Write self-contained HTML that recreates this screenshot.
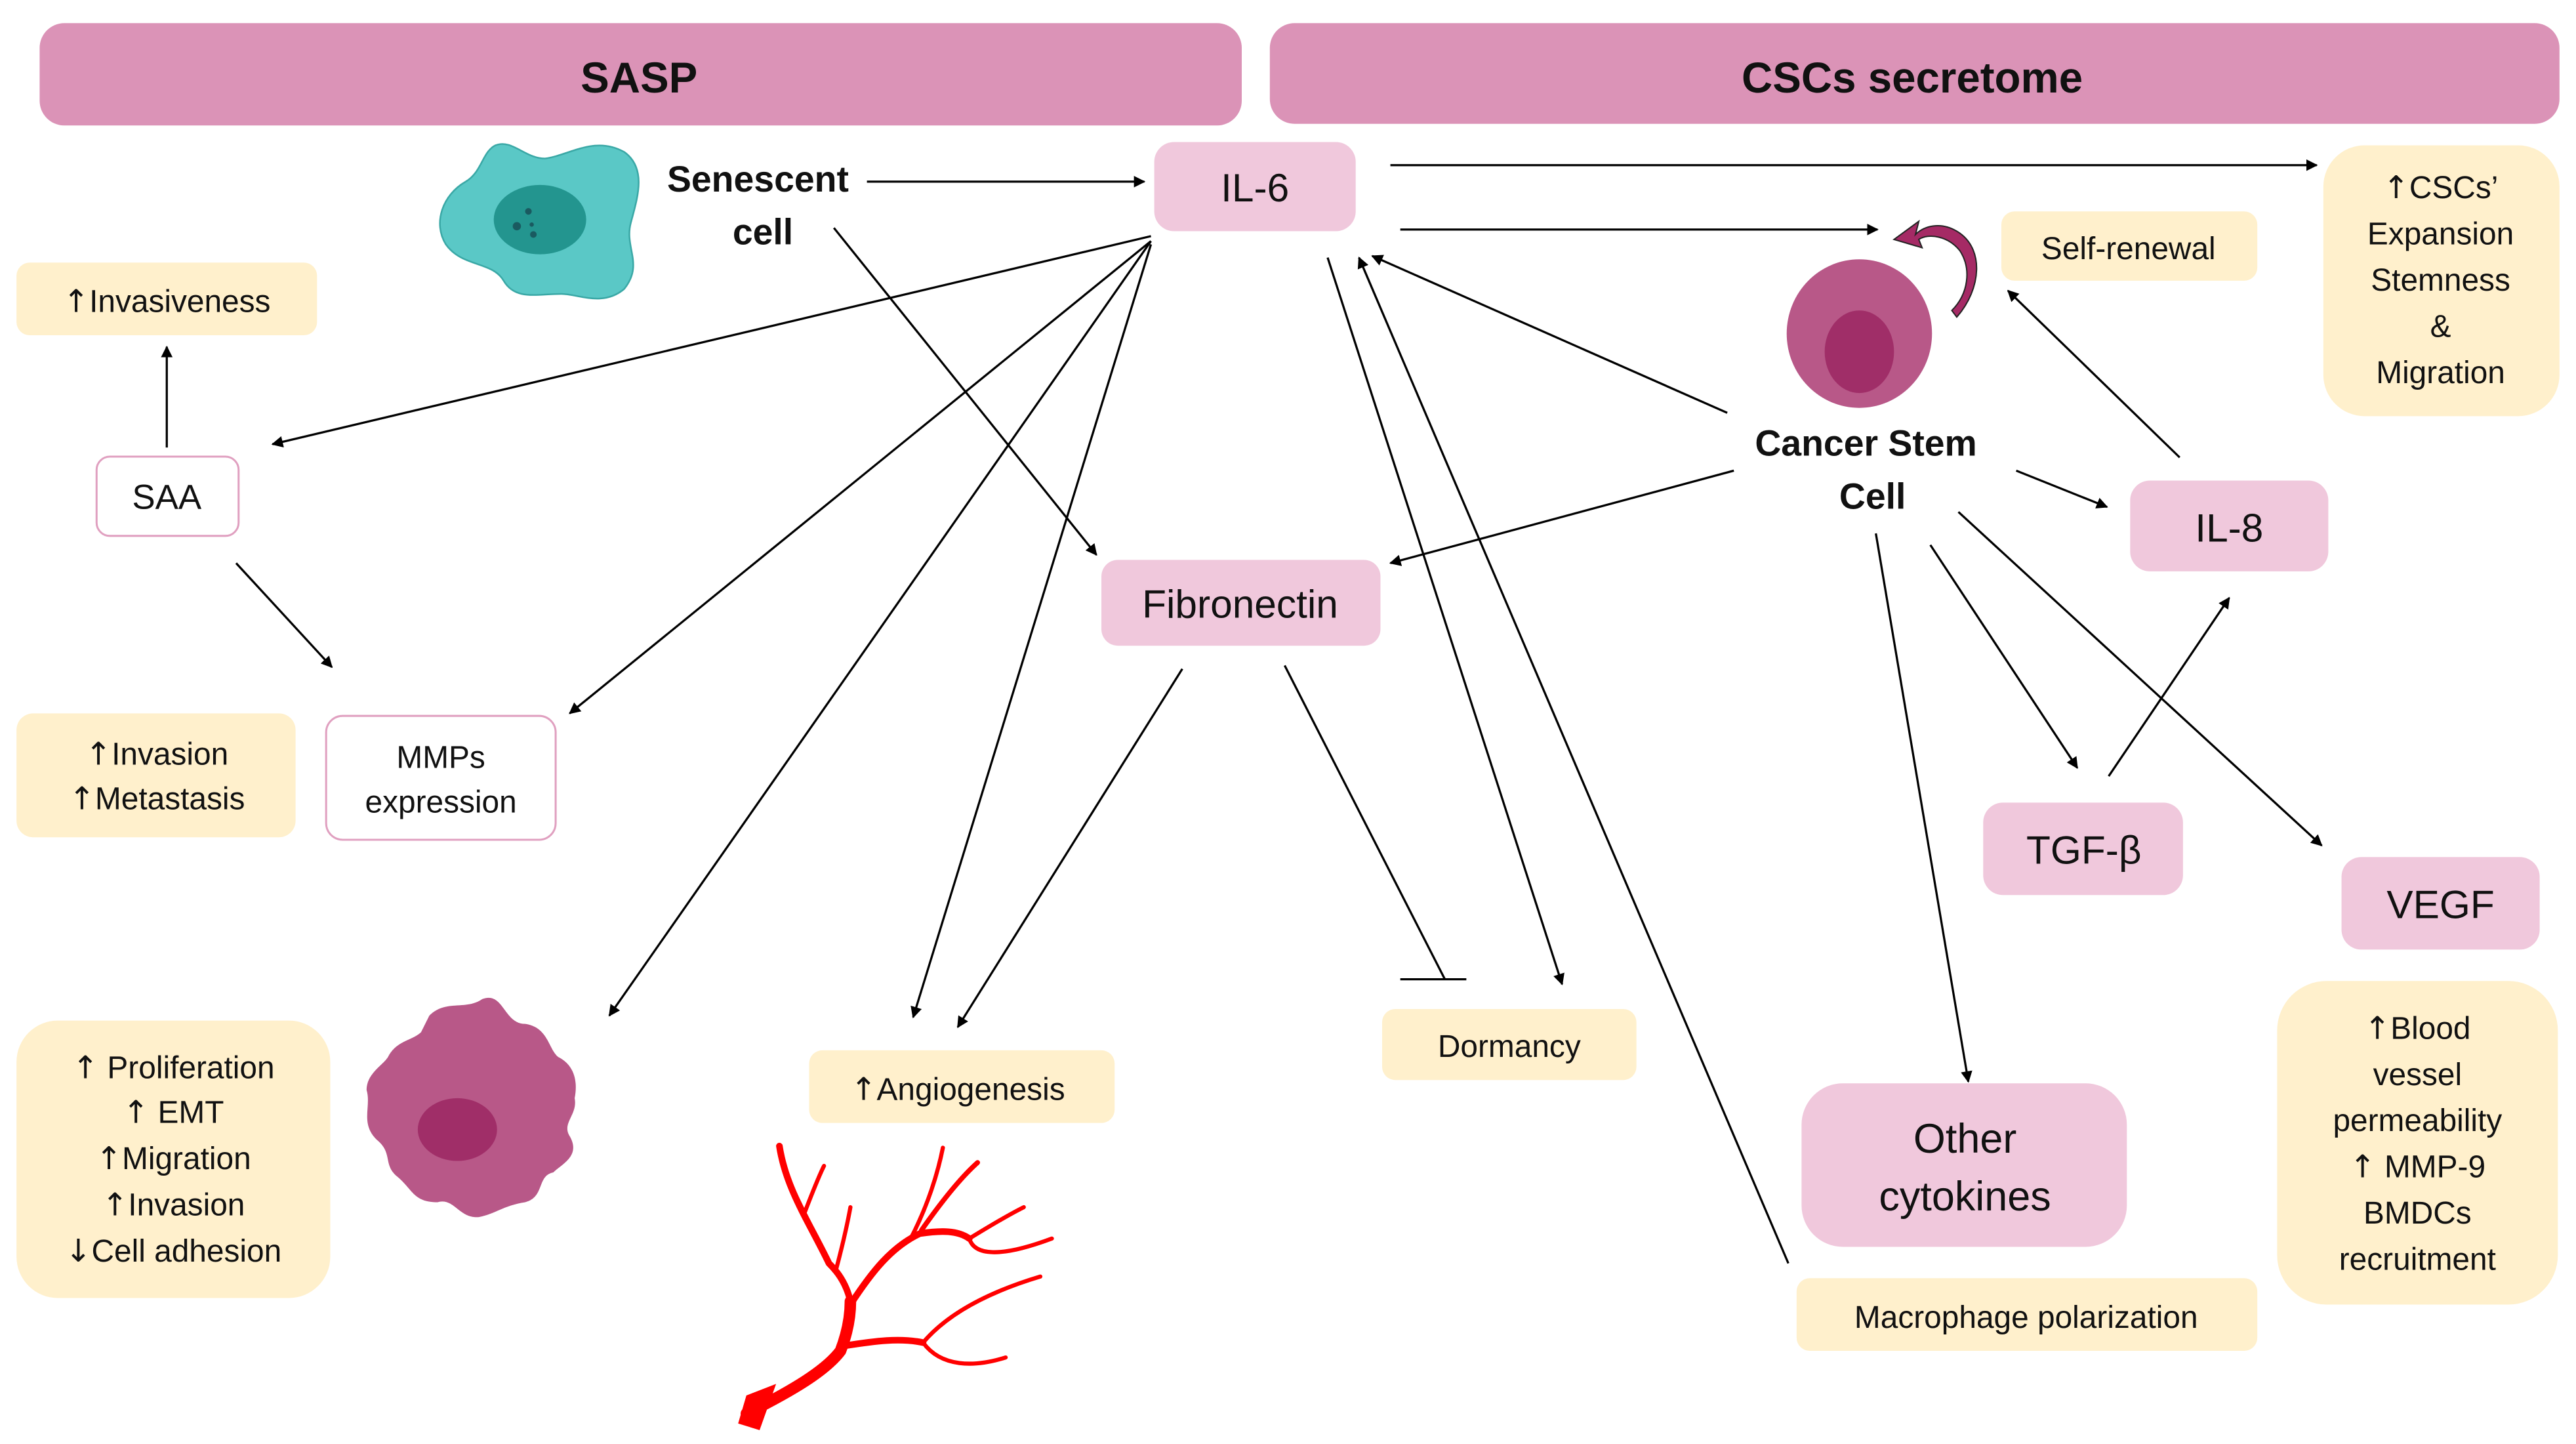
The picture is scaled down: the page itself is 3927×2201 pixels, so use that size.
<!DOCTYPE html>
<html><head><meta charset="utf-8"><style>
html,body{margin:0;padding:0;background:#fff;}
svg{display:block;}
text{font-family:"Liberation Sans",sans-serif;fill:#111;}
.ar{font-family:"DejaVu Sans",sans-serif;}
</style></head><body>
<svg width="3927" height="2201" viewBox="0 0 1560 874.4" preserveAspectRatio="none" xmlns="http://www.w3.org/2000/svg">
<defs>
<marker id="a" viewBox="0 0 10 10" refX="9" refY="5" markerWidth="7" markerHeight="7" orient="auto" markerUnits="userSpaceOnUse">
<path d="M0,0 L10,5 L0,10 z" fill="#000"/></marker>
</defs>
<rect x="24" y="14" width="728" height="62" rx="15" fill="#db93b7"/>
<rect x="769" y="14" width="781" height="61" rx="15" fill="#db93b7"/>
<text x="387" y="56" font-size="26" font-weight="bold" text-anchor="middle">SASP</text>
<text x="1158" y="56" font-size="26" font-weight="bold" text-anchor="middle">CSCs secretome</text>

<path d="M300,88 C310,84 318,96 330,96 C345,94 360,82 378,92 C392,102 386,120 382,135 C378,150 390,160 378,175 C365,186 350,178 340,178 C325,178 312,182 305,170 C298,158 280,162 270,148 C262,135 268,118 282,110 C292,104 292,92 300,88 Z" fill="#5ac8c6" stroke="#3aa8a6" stroke-width="1"/>
<ellipse cx="327" cy="133" rx="28" ry="21" fill="#23958f"/>
<circle cx="320" cy="128" r="2" fill="#1a5a60"/><circle cx="313" cy="137" r="2.5" fill="#1a5a60"/><circle cx="323" cy="142" r="2" fill="#1a5a60"/><circle cx="322" cy="136" r="1.3" fill="#1a5a60"/>
<text x="459" y="116" font-size="22" font-weight="bold" text-anchor="middle">Senescent</text>
<text x="462" y="148" font-size="22" font-weight="bold" text-anchor="middle">cell</text>

<rect x="699" y="86" width="122" height="54" rx="12" fill="#f0c8dc"/>
<text x="760" y="122" font-size="24" text-anchor="middle">IL-6</text>
<rect x="1212" y="128" width="155" height="42" rx="8" fill="#fff0cc"/>
<text x="1289" y="157" font-size="19" text-anchor="middle">Self-renewal</text>
<rect x="1407" y="88" width="143" height="164" rx="25" fill="#fff0cc"/>
<g font-size="19" text-anchor="middle"><text x="1478" y="120"><tspan class="ar">↑</tspan>CSCs’</text><text x="1478" y="148">Expansion</text><text x="1478" y="176">Stemness</text><text x="1478" y="204">&amp;</text><text x="1478" y="232">Migration</text></g>

<ellipse cx="1126" cy="202" rx="44" ry="45" fill="#b85888"/>
<ellipse cx="1126" cy="213" rx="21" ry="25" fill="#a02e68"/>
<path d="M1185,192 C1200,175 1202,150 1185,140 C1175,134 1165,137 1160,142 L1162,134 L1147,145 L1164,150 L1162,145 C1168,141 1180,143 1187,152 C1194,163 1192,178 1182,188 Z" fill="#a52a65" stroke="#222" stroke-width="0.8"/>
<text x="1130" y="276" font-size="22" font-weight="bold" text-anchor="middle">Cancer Stem</text>
<text x="1134" y="308" font-size="22" font-weight="bold" text-anchor="middle">Cell</text>

<rect x="10" y="159" width="182" height="44" rx="8" fill="#fff0cc"/>
<text x="101" y="189" font-size="19" text-anchor="middle"><tspan class="ar">↑</tspan>Invasiveness</text>
<rect x="58.5" y="276.5" width="86" height="48" rx="8" fill="#fff" stroke="#e0a0c0" stroke-width="1.2"/>
<text x="101" y="308" font-size="21" text-anchor="middle">SAA</text>
<rect x="10" y="432" width="169" height="75" rx="10" fill="#fff0cc"/>
<text x="95" y="463" font-size="19" text-anchor="middle"><tspan class="ar">↑</tspan>Invasion</text>
<text x="95" y="490" font-size="19" text-anchor="middle"><tspan class="ar">↑</tspan>Metastasis</text>
<rect x="197.5" y="433.5" width="139" height="75" rx="10" fill="#fff" stroke="#e0a0c0" stroke-width="1.2"/>
<text x="267" y="465" font-size="19" text-anchor="middle">MMPs</text>
<text x="267" y="492" font-size="19" text-anchor="middle">expression</text>
<rect x="667" y="339" width="169" height="52" rx="10" fill="#f0c8dc"/>
<text x="751" y="374" font-size="24" text-anchor="middle">Fibronectin</text>
<rect x="1290" y="291" width="120" height="55" rx="12" fill="#f0c8dc"/>
<text x="1350" y="328" font-size="24" text-anchor="middle">IL-8</text>
<rect x="1201" y="486" width="121" height="56" rx="12" fill="#f0c8dc"/>
<text x="1262" y="523" font-size="24" text-anchor="middle">TGF-β</text>
<rect x="1418" y="519" width="120" height="56" rx="12" fill="#f0c8dc"/>
<text x="1478" y="556" font-size="24" text-anchor="middle">VEGF</text>
<rect x="1379" y="594" width="170" height="196" rx="30" fill="#fff0cc"/>
<g font-size="19" text-anchor="middle"><text x="1464" y="629"><tspan class="ar">↑</tspan>Blood</text><text x="1464" y="657">vessel</text><text x="1464" y="685">permeability</text><text x="1464" y="713"><tspan class="ar">↑</tspan> MMP-9</text><text x="1464" y="741">BMDCs</text><text x="1464" y="769">recruitment</text></g>
<rect x="1091" y="656" width="197" height="99" rx="25" fill="#f0c8dc"/>
<text x="1190" y="698" font-size="25" text-anchor="middle">Other</text>
<text x="1190" y="733" font-size="25" text-anchor="middle">cytokines</text>
<rect x="1088" y="774" width="279" height="44" rx="8" fill="#fff0cc"/>
<text x="1227" y="804" font-size="19" text-anchor="middle">Macrophage polarization</text>
<rect x="837" y="611" width="154" height="43" rx="8" fill="#fff0cc"/>
<text x="914" y="640" font-size="19" text-anchor="middle">Dormancy</text>
<rect x="490" y="636" width="185" height="44" rx="8" fill="#fff0cc"/>
<text x="580" y="666" font-size="19" text-anchor="middle"><tspan class="ar">↑</tspan>Angiogenesis</text>
<rect x="10" y="618" width="190" height="168" rx="25" fill="#fff0cc"/>
<g font-size="19" text-anchor="middle"><text x="105" y="653"><tspan class="ar">↑</tspan> Proliferation</text><text x="105" y="680"><tspan class="ar">↑</tspan> EMT</text><text x="105" y="708"><tspan class="ar">↑</tspan>Migration</text><text x="105" y="736"><tspan class="ar">↑</tspan>Invasion</text><text x="105" y="764"><tspan class="ar">↓</tspan>Cell adhesion</text></g>

<path d="M260,615 C270,605 282,612 292,605 C305,600 305,620 318,620 C332,622 332,635 338,640 C348,645 350,655 348,665 C350,675 340,680 345,688 C352,700 340,705 335,710 C325,712 330,725 318,728 C305,730 300,735 290,737 C278,738 275,725 265,728 C250,728 250,720 240,712 C232,705 238,698 228,690 C218,680 225,670 222,660 C222,650 232,645 235,640 C240,630 250,630 255,625 Z" fill="#b85888"/>
<ellipse cx="277" cy="684" rx="24" ry="19" fill="#a02e68"/>

<!-- vessel -->
<g fill="none" stroke="#f00" stroke-linecap="round" stroke-linejoin="round">
<path d="M452,856 C480,842 500,830 509,818 C514,805 515,795 515,788" stroke-width="7"/>
<path d="M515,788 C512,775 505,768 502,765 C490,740 476,720 472,694" stroke-width="4"/>
<path d="M487,735 C492,722 496,712 499,706" stroke-width="2.5"/>
<path d="M506,770 C510,755 513,742 515,731" stroke-width="2.5"/>
<path d="M515,790 C528,770 540,755 557,747 C570,745 580,745 587,750" stroke-width="4"/>
<path d="M587,750 C590,760 605,762 637,750" stroke-width="2.5"/>
<path d="M587,750 C600,742 612,735 620,731" stroke-width="2.5"/>
<path d="M551,751 C562,730 568,710 571,695" stroke-width="2.5"/>
<path d="M558,745 C572,725 583,712 592,704" stroke-width="3"/>
<path d="M511,815 C530,812 545,810 559,813" stroke-width="4"/>
<path d="M559,813 C570,800 590,785 630,773" stroke-width="2.5"/>
<path d="M559,813 C570,828 590,828 609,822" stroke-width="2.5"/>
</g>
<path d="M447,862 L452,845 L470,838 L460,866 Z" fill="#f00"/>

<g stroke="#000" stroke-width="1.3" fill="none" marker-end="url(#a)">
<line x1="525" y1="110" x2="693" y2="110"/>
<line x1="842" y1="100" x2="1403" y2="100"/>
<line x1="848" y1="139" x2="1137" y2="139"/>
<line x1="101" y1="271" x2="101" y2="210"/>
<line x1="697" y1="143" x2="165" y2="269"/>
<line x1="505" y1="138" x2="664" y2="336"/>
<line x1="697" y1="146" x2="345" y2="432"/>
<line x1="697" y1="146" x2="369" y2="615"/>
<line x1="697" y1="148" x2="553" y2="616"/>
<line x1="143" y1="341" x2="201" y2="404"/>
<line x1="716" y1="405" x2="580" y2="622"/>
<line x1="1050" y1="285" x2="842" y2="341"/>
<line x1="804" y1="156" x2="946" y2="596"/>
<line x1="1083" y1="765" x2="823" y2="156"/>
<line x1="1046" y1="250" x2="831" y2="155"/>
<line x1="1320" y1="277" x2="1216" y2="176"/>
<line x1="1221" y1="285" x2="1276" y2="307"/>
<line x1="1169" y1="330" x2="1258" y2="465"/>
<line x1="1277" y1="470" x2="1350" y2="362"/>
<line x1="1186" y1="310" x2="1406" y2="512"/>
<line x1="1136" y1="323" x2="1192" y2="655"/>
</g>
<line x1="778" y1="403" x2="875" y2="593" stroke="#000" stroke-width="1.3"/>
<line x1="848" y1="593" x2="888" y2="593" stroke="#000" stroke-width="1.3"/>
</svg>
</body></html>
